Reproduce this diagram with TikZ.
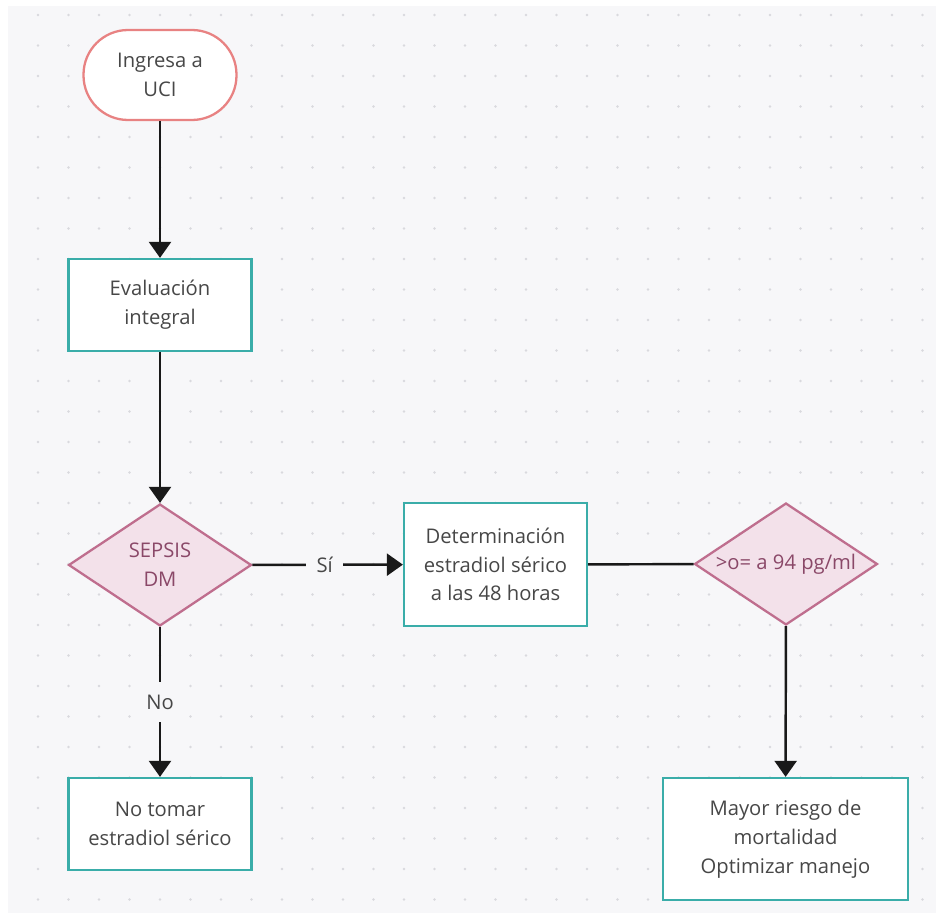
\documentclass[tikz,border=0pt]{standalone}
\usepackage{fontspec}
\setmainfont{Open Sans}
\usepackage{tikz}
\usepackage{xcolor}
\usetikzlibrary{shapes, arrows.meta}

\definecolor{canvas}{HTML}{F7F7F9}
\definecolor{griddot}{HTML}{D9D9DE}
\definecolor{tealline}{HTML}{3AADA9}
\definecolor{startline}{HTML}{E88282}
\definecolor{decfill}{HTML}{F3E1EA}
\definecolor{decline}{HTML}{BF6E8E}
\definecolor{dectext}{HTML}{8A4868}
\definecolor{boxtext}{HTML}{474747}

\tikzset{
    startnode/.style={rectangle, rounded corners=0.89cm, draw=startline, fill=white, line width=1.3pt,
        minimum width=3.06cm, minimum height=1.8cm, text=boxtext, align=center},
    procnode/.style={rectangle, draw=tealline, fill=white, line width=1.3pt,
        text=boxtext, align=center},
    decnode/.style={diamond, draw=decline, fill=decfill, line width=1.3pt, aspect=1.5,
        inner sep=0pt, minimum width=3.66cm, minimum height=2.44cm, text=dectext, align=center},
    flow/.style={line width=1.4pt, black!90},
    arr/.style={flow, -{Triangle[width=0.44cm, length=0.32cm]}},
    edgelabel/.style={fill=canvas, text=boxtext, inner xsep=6pt, inner ysep=7pt}
}

\begin{document}
\begin{tikzpicture}[x=0.02cm, y=-0.02cm, font=\fontsize{11.5}{16.4}\selectfont]
        \useasboundingbox (0,0) rectangle (941,922);
        \fill[white] (0,0) rectangle (941,922);
        \fill[canvas] (8,6) rectangle (936,913);
        \foreach \i in {0,...,29}
            \foreach \j in {0,...,29}
                \fill[griddot] (38+30.5*\i, 15+30.5*\j) circle (1.3);

        \node[startnode] (uci) at (160, 75) {Ingresa a\\UCI};
        \node[procnode, minimum width=3.66cm, minimum height=1.84cm] (eval) at (160, 305) {Evaluación\\integral};
        \node[decnode] (sepsis) at (160, 565) {SEPSIS\\DM};
        \node[procnode, minimum width=3.66cm, minimum height=2.46cm] (estradiol) at (495.5, 564.5) {Determinación\\estradiol sérico\\a las 48 horas};
        \node[decnode] (nivel) at (786, 564) {>o= a 94 pg/ml};
        \node[procnode, minimum width=4.9cm, minimum height=2.44cm] (riesgo) at (785.5, 839) {Mayor riesgo de\\mortalidad\\Optimizar manejo};

        \node[procnode, minimum width=3.66cm, minimum height=1.84cm] (notomar) at (160, 824) {No tomar\\estradiol sérico};

        \draw[arr] (uci) -- (eval);
        \draw[arr] (eval) -- (sepsis);
        \draw[arr] (sepsis) -- node[edgelabel, pos=0.48] {Sí} (estradiol);
        \draw[arr] (sepsis) -- node[edgelabel, pos=0.5] {No} (notomar);
        \draw[flow] (estradiol) -- (nivel);
        \draw[arr] (nivel) -- (riesgo);
    \end{tikzpicture}
\end{document}
